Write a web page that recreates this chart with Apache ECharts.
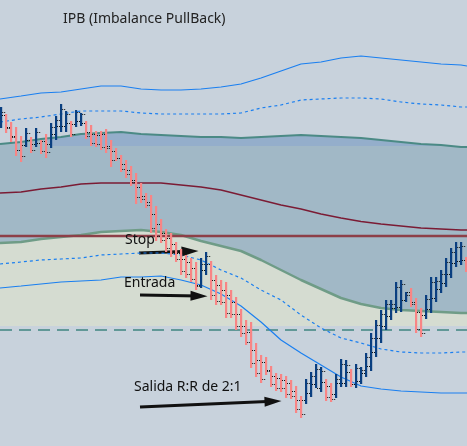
<!DOCTYPE html>
<html>
<head>
<meta charset="utf-8">
<script src="https://cdn.jsdelivr.net/npm/echarts@6.0.0/dist/echarts.min.js"></script>
<style>
  html, body { margin: 0; padding: 0; background: #c8d2dc; }
  #chart { width: 467px; height: 446px; }
</style>
</head>
<body>
<div id="chart"></div>
<script>
// price bars (one per bar index)
const highs = [393,386,378,373,364,372,363,372,360,366, 377,384,396,389,379,390,387,379,375,369,
  369,371,360,352,345,340,334,327,317,307, 305,294,281,271,267,258,251,245,242,238,
  242,248,239,225,220,218,210,203,191,180, 178,157,145,143,134,127,126,124,120,114,
  104,121,128,136,133,121,117,126,141,140, 131,136,133,147,167,180,190,200,200,218,
  220,208,212,202,192,205,223,223,230,242, 252,258,258,243];
const lows = [372,367,358,344,338,353,347,353,346,342, 352,360,368,368,363,373,374,361,354,353,
  350,347,333,339,328,322,314,296,297,292, 267,259,257,248,243,238,225,222,218,210,
  212,225,200,195,195,182,182,170,163,155, 132,123,117,125,113,109,108,102,101,87,
  82,96,103,112,108,99,98,102,113,113, 113,112,116,123,129,143,157,170,180,187,
  188,198,193,167,163,181,187,198,207,213, 222,233,235,228];
const opens = [377,385,373,364,350,355,360,356,357,359, 356,366,374,374,377,376,379,377,368,366,
  365,366,354,349,342,336,330,320,313,304, 298,286,276,267,262,256,247,241,238,232,
  215,230,236,220,215,210,205,198,186,174, 168,150,140,138,130,124,122,120,117,109,
  100,100,107,116,112,118,114,106,117,117, 128,116,119,127,134,148,162,174,184,192,
  193,200,208,198,188,185,191,202,211,217, 226,237,239,240];
const closes = [388,372,363,350,344,367,350,368,349,348, 373,380,391,386,366,388,386,364,357,356,
  353,352,340,342,331,326,318,303,301,295, 272,264,260,252,247,241,229,226,221,214,
  236,244,205,199,198,187,186,174,167,158, 137,127,121,129,116,112,112,106,104,91,
  86,117,124,131,129,103,101,121,136,135, 116,132,130,143,162,175,186,196,196,213,
  216,205,196,171,167,201,218,219,226,238, 248,253,254,231];

// indicator lines, sampled at these bar indices
const knots = [-0.2,4,8,12,16,20,24,28,32,36,40,44,48,52,56,60,64,68,72,76,80,84,88,92,93.2];
const upperBand   = [401,404,407,408,411,414,414,411,410,410,411,413,416,422,429,436,438,442,444,442,440,438,436,435,434];
const upperDotted = [378,381,383,386,389,389,389,387,386,386,386,386,387,392,395,400,401,402,402,401,398,396,395,393,393];
const tealLine    = [356,358,361,363,366,367,368,366,365,364,363,363,362,363,364,365,364,363,362,360,358,356,355,353,353];
const greenLine   = [257,258,261,263,265,268,269,270,268,265,259,254,249,240,230,220,211,202,196,192,190,189,188,187,187];
const darkRedLine = [307,308,311,313,316,317,317,317,317,315,313,310,305,300,295,291,286,282,278.5,276,274,272,271,270,270];
const lowerDotted = [236,238,240,241,242,245,246,247,247,245,240,230,222,210,200,185,172,162,157,151,148,147,147,148,148];
const lowerBand   = [212,214,216,218,219,220,223,223,224,220,215,206,194,178,160,147,135,123,114,111,109,108,107,107,107];

const innerKnots = [-0.2,4,8,9,10,93.2];
const innerLine  = [356,358,361,361.5,354,354];

const redLevel = 264;
const dashedLevel = 170;
const zoneBase = 174;

// arrows: [fromIndex, fromPrice, toIndex, toPrice]
const arrows = [
  [27.6, 247, 37.8, 248.7],
  [27.8, 205, 39.6, 204],
  [27.8, 93, 54.4, 98.7]
];

const chart = echarts.init(document.getElementById('chart'), null, { renderer: 'canvas' });

function pairs(xs, ys) {
  return xs.map((x, i) => [x, ys[i]]);
}

function line(name, xs, ys, lineStyle, z) {
  return {
    type: 'line', name: name, data: pairs(xs, ys), symbol: 'none',
    silent: true, z: z, lineStyle: lineStyle
  };
}

function fill(name, xs, ys, color, z) {
  return {
    type: 'line', name: name, data: pairs(xs, ys), symbol: 'none',
    silent: true, z: z, lineStyle: { width: 0 },
    areaStyle: { color: color, opacity: 1, origin: zoneBase }
  };
}

const bars = highs.map((h, i) => [i, opens[i], closes[i], lows[i], h]);

const option = {
  backgroundColor: '#c8d2dc',
  animation: false,
  grid: { left: 0, right: 0, top: 0, bottom: 0 },
  xAxis: { type: 'value', min: -0.2, max: 93.2, show: false },
  yAxis: { type: 'value', min: 54, max: 500, show: false },
  graphic: [
    { type: 'text', left: 63, top: 12, style: { text: 'IPB (Imbalance PullBack)', font: '14px "Noto Sans"', fill: '#222' } },
    { type: 'text', left: 125, top: 233, z: 30, style: { text: 'Stop', font: '14px "Noto Sans"', fill: '#111' } },
    { type: 'text', left: 124, top: 276, z: 30, style: { text: 'Entrada', font: '14px "Noto Sans"', fill: '#111' } },
    { type: 'text', left: 134, top: 380, z: 30, style: { text: 'Salida R:R de 2:1', font: '14px "Noto Sans"', fill: '#111' } }
  ],
  series: [
    fill('band', knots, tealLine, '#94aecb', 1),
    fill('cloud', innerKnots, innerLine, '#a1b8c6', 2),
    fill('zone', knots, greenLine, '#d5dcd1', 3),
    line('dashed', [-0.2, 93.2], [dashedLevel, dashedLevel], { color: '#3f8580', width: 1.5, type: [12, 7] }, 4),
    line('lowerBand', knots, lowerBand, { color: '#1a7ff0', width: 1.2 }, 5),
    line('lowerDotted', knots, lowerDotted, { color: '#1a7ff0', width: 1.2, type: [3, 3] }, 5),
    line('upperBand', knots, upperBand, { color: '#1a7ff0', width: 1.2 }, 5),
    line('upperDotted', knots, upperDotted, { color: '#1a7ff0', width: 1.2, type: [3, 3] }, 5),
    line('teal', knots, tealLine, { color: '#4b8a85', width: 2 }, 5),
    line('green', knots, greenLine, { color: '#6f9c87', width: 2.5 }, 5),
    line('darkRed', knots, darkRedLine, { color: '#7b1b34', width: 1.4 }, 5),
    line('redLevel', [-0.2, 93.2], [redLevel, redLevel], { color: '#8d3f48', width: 2.5 }, 6),
    {
      type: 'custom',
      name: 'bars',
      z: 10,
      silent: true,
      data: bars,
      renderItem: function (params, api) {
        const x = api.value(0);
        const o = api.value(1), c = api.value(2), l = api.value(3), h = api.value(4);
        const top = api.coord([x, h]);
        const bot = api.coord([x, l]);
        const po = api.coord([x, o]);
        const pc = api.coord([x, c]);
        const color = c >= o ? '#0a3f80' : '#f88585';
        const oy = Math.round(po[1]) + 0.5;
        const cy = Math.round(pc[1]) + 0.5;
        return {
          type: 'group',
          children: [
            { type: 'rect', shape: { x: top[0] - 1, y: top[1], width: 2.2, height: bot[1] - top[1] }, style: { fill: color } },
            { type: 'line', shape: { x1: po[0] - 4, y1: oy, x2: po[0] - 1, y2: oy }, style: { stroke: '#111', lineWidth: 1, lineDash: [1, 1] } },
            { type: 'line', shape: { x1: pc[0] + 1.2, y1: cy, x2: pc[0] + 4.2, y2: cy }, style: { stroke: '#111', lineWidth: 1, lineDash: [1, 1] } }
          ]
        };
      }
    },
    {
      type: 'line',
      name: 'arrows',
      data: [],
      z: 20,
      silent: true,
      markLine: {
        silent: true,
        symbol: ['none', 'triangle'],
        symbolSize: [10, 17],
        label: { show: false },
        lineStyle: { color: '#111', width: 3, type: 'solid' },
        data: arrows.map(a => [{ coord: [a[0], a[1]] }, { coord: [a[2], a[3]] }])
      }
    }
  ]
};

chart.setOption(option);
</script>
</body>
</html>
